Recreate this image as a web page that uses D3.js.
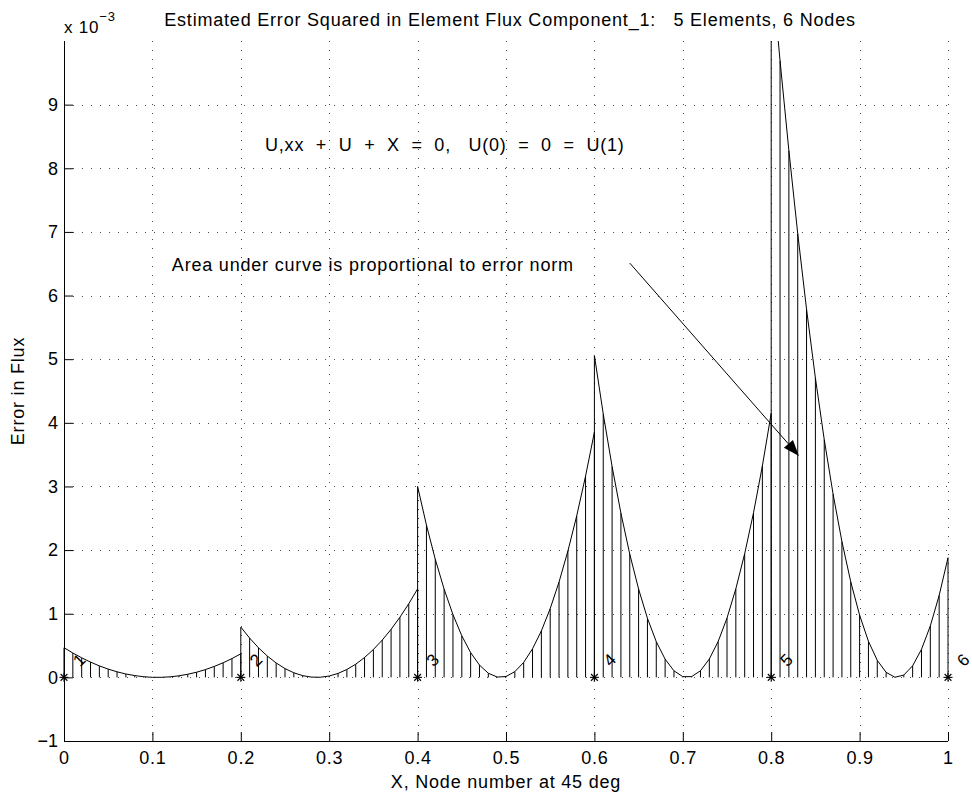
<!DOCTYPE html>
<html>
<head>
<meta charset="utf-8">
<script src="https://cdn.jsdelivr.net/npm/d3@7"></script>
<style>
  html, body { margin: 0; padding: 0; background: #fff; }
  svg { display: block; font-family: "Liberation Sans", Arial, Helvetica, sans-serif; }
  text { white-space: pre; letter-spacing: 0.8px; }
  text.node { letter-spacing: 0; }
</style>
</head>
<body>
<svg id="chart" width="972" height="795"></svg>
<script>
// ---- data (error squared, units of 1e-3) ----
const sampleOffsets = [0,0.01,0.02,0.03,0.04,0.05,0.06,0.07,0.08,0.09,0.10,0.11,0.12,0.13,0.14,0.15,0.16,0.17,0.18,0.19,0.20];
const elementStarts = [0, 0.2, 0.4, 0.6, 0.8];
const element1 = [0.466,0.383,0.307,0.240,0.180,0.130,0.087,0.053,0.028,0.010,0.001,0.001,0.008,0.024,0.049,0.081,0.122,0.172,0.229,0.295,0.370];
const element2 = [0.790,0.617,0.465,0.335,0.226,0.138,0.072,0.027,0.004,0.002,0.021,0.062,0.124,0.207,0.312,0.438,0.586,0.755,0.945,1.157,1.390];
const element3 = [3.000,2.394,1.856,1.387,0.986,0.653,0.389,0.193,0.065,0.005,0.013,0.090,0.235,0.449,0.730,1.080,1.498,1.985,2.539,3.162,3.853];
const element4 = [5.058,4.140,3.314,2.580,1.937,1.387,0.928,0.561,0.286,0.103,0.011,0.012,0.104,0.288,0.564,0.932,1.392,1.944,2.587,3.322,4.149];
const element5 = [11.216,9.691,8.277,6.975,5.784,4.705,3.737,2.880,2.135,1.501,0.978,0.567,0.267,0.079,0.002,0.036,0.182,0.440,0.808,1.288,1.880];
const elements = [element1, element2, element3, element4, element5];
const nodeX = [0, 0.2, 0.4, 0.6, 0.8, 1.0];
const nodeLabels = ["1","2","3","4","5","6"];
const xTicks = [0,0.1,0.2,0.3,0.4,0.5,0.6,0.7,0.8,0.9,1];
const xTickLabels = ["0","0.1","0.2","0.3","0.4","0.5","0.6","0.7","0.8","0.9","1"];
const yTicks = [-1,0,1,2,3,4,5,6,7,8,9];
const yTickLabels = ["\u22121","0","1","2","3","4","5","6","7","8","9"];
const titleText = "Estimated Error Squared in Element Flux Component_1:   5 Elements, 6 Nodes";
const xLabelText = "X, Node number at 45 deg";
const yLabelText = "Error in Flux";
const equationText = "U,xx  +  U  +  X  =  0,   U(0)  =  0  =  U(1)";
const noteText = "Area under curve is proportional to error norm";
const equationPos = [0.2274, 8.37];
const notePos = [0.122, 6.48];
const arrowFrom = [0.640, 6.51];
const arrowTo = [0.8314, 3.48];
const nodeLabelOffset = [0.0175, 0.27];

// ---- layout ----
const svg = d3.select("#chart");
const padL = 64, padR = 948, padT = 41, padB = 741;
const fs = 18;
const x = d3.scaleLinear().domain([0, 1]).range([padL, padR]);
const y = d3.scaleLinear().domain([-1, 10]).range([padB, padT]);

svg.append("defs").append("clipPath").attr("id", "clipTop")
  .append("rect").attr("x", 0).attr("y", padT).attr("width", 972).attr("height", padB - padT);

// grid
const grid = svg.append("g").attr("stroke", "#000").attr("stroke-width", 1)
  .attr("stroke-dasharray", "1,8").attr("fill", "none");
xTicks.forEach(t => {
  const px = Math.round(x(t)) + 0.5;
  grid.append("line").attr("x1", px).attr("x2", px).attr("y1", padT).attr("y2", padB).attr("stroke-opacity", 0.7);
});
yTicks.forEach(t => {
  if (t === -1) return;
  const py = Math.round(y(t)) + 0.5;
  grid.append("line").attr("x1", padL).attr("x2", padR).attr("y1", py).attr("y2", py).attr("stroke-opacity", 0.7);
});

// stems and curves
const plot = svg.append("g").attr("clip-path", "url(#clipTop)");
elements.forEach((vals, e) => {
  const pts = vals.map((v, i) => [elementStarts[e] + sampleOffsets[i], v]);
  plot.append("g").selectAll("line").data(pts).join("line")
    .attr("x1", d => x(d[0])).attr("x2", d => x(d[0]))
    .attr("y1", y(0)).attr("y2", d => y(d[1]))
    .attr("stroke", "#000").attr("stroke-width", 1);
  plot.append("path").datum(pts)
    .attr("d", d3.line().x(d => x(d[0])).y(d => y(d[1])))
    .attr("fill", "none").attr("stroke", "#000").attr("stroke-width", 1);
});

// node markers (asterisks)
const r = 4.5;
nodeX.forEach(n => {
  const cx = x(n), cy = y(0);
  const g = svg.append("g").attr("stroke", "#000").attr("stroke-width", 1.1);
  g.append("line").attr("x1", cx - r).attr("x2", cx + r).attr("y1", cy).attr("y2", cy);
  g.append("line").attr("x1", cx).attr("x2", cx).attr("y1", cy - r).attr("y2", cy + r);
  g.append("line").attr("x1", cx - r*0.75).attr("x2", cx + r*0.75).attr("y1", cy - r*0.75).attr("y2", cy + r*0.75);
  g.append("line").attr("x1", cx - r*0.75).attr("x2", cx + r*0.75).attr("y1", cy + r*0.75).attr("y2", cy - r*0.75);
});

// node labels rotated 45 deg
nodeX.forEach((n, i) => {
  const lx = x(n + nodeLabelOffset[0]), ly = y(nodeLabelOffset[1]);
  svg.append("text").attr("class", "node").attr("x", lx).attr("y", ly)
    .attr("transform", `rotate(-45, ${lx}, ${ly})`)
    .attr("text-anchor", "middle").attr("dominant-baseline", "central")
    .attr("font-size", 17).text(nodeLabels[i]);
});

// axes
const xAxis = d3.axisBottom(x).tickValues(xTicks).tickFormat((d, i) => xTickLabels[i])
  .tickSizeInner(-9).tickSizeOuter(0).tickPadding(10);
const gx = svg.append("g").attr("transform", `translate(0,${padB})`).call(xAxis);
const yAxis = d3.axisLeft(y).tickValues(yTicks).tickFormat((d, i) => yTickLabels[i])
  .tickSizeInner(-9).tickSizeOuter(0).tickPadding(6);
const gy = svg.append("g").attr("transform", `translate(${padL},0)`).call(yAxis);
[gx, gy].forEach(g => {
  g.selectAll("text").attr("font-size", fs).attr("font-family", "Liberation Sans, Arial, sans-serif").attr("fill", "#000");
  g.selectAll("line").attr("stroke", "#000");
  g.select(".domain").attr("stroke", "#000");
});
gy.selectAll(".tick text").style("letter-spacing", "0px");
gx.select(".domain").attr("d", `M${padL},0.5H${padR}`);
gy.select(".domain").attr("d", `M0.5,${padT}V${padB}`);

// exponent label
const expo = svg.append("text").attr("x", 64).attr("y", 33).attr("font-size", 17);
expo.append("tspan").text("x 10");
expo.append("tspan").attr("dy", -12).attr("font-size", 13).text("\u22123");

// title
svg.append("text").attr("x", 510).attr("y", 26).attr("text-anchor", "middle")
  .attr("font-size", fs).text(titleText);

// axis labels
svg.append("text").attr("x", (padL + padR) / 2).attr("y", 788).attr("text-anchor", "middle")
  .attr("font-size", fs).text(xLabelText);
svg.append("text").attr("transform", `translate(24,${(padT + padB) / 2}) rotate(-90)`)
  .attr("text-anchor", "middle").attr("font-size", fs).text(yLabelText);

// annotations
svg.append("text").attr("x", x(equationPos[0])).attr("y", y(equationPos[1]))
  .attr("dominant-baseline", "central").attr("font-size", fs).text(equationText);
svg.append("text").attr("x", x(notePos[0])).attr("y", y(notePos[1]))
  .attr("dominant-baseline", "central").attr("font-size", fs).text(noteText);

// arrow
const ax1 = x(arrowFrom[0]), ay1 = y(arrowFrom[1]);
const ax2 = x(arrowTo[0]), ay2 = y(arrowTo[1]);
const ang = Math.atan2(ay2 - ay1, ax2 - ax1);
const headLen = 16, headHalf = 6;
const bx = ax2 - headLen * Math.cos(ang), by = ay2 - headLen * Math.sin(ang);
svg.append("line").attr("x1", ax1).attr("y1", ay1).attr("x2", bx).attr("y2", by)
  .attr("stroke", "#000").attr("stroke-width", 1);
svg.append("path")
  .attr("d", `M${ax2},${ay2}L${bx + headHalf * Math.sin(ang)},${by - headHalf * Math.cos(ang)}L${bx - headHalf * Math.sin(ang)},${by + headHalf * Math.cos(ang)}Z`)
  .attr("fill", "#000");
</script>
</body>
</html>
